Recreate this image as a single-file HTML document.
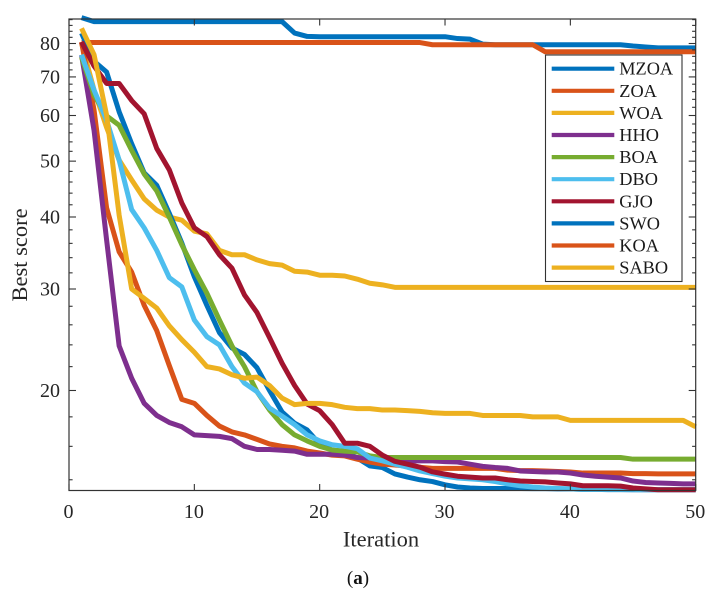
<!DOCTYPE html>
<html>
<head>
<meta charset="utf-8">
<title>Best score vs Iteration</title>
<style>
html,body{margin:0;padding:0;background:#fff;}
svg{display:block;font-family:"Liberation Serif",serif;}
</style>
</head>
<body>
<svg id="chart" width="718" height="602" viewBox="0 0 718 602" xmlns="http://www.w3.org/2000/svg">
<rect x="0" y="0" width="718" height="602" fill="#ffffff"/>
<g id="series"></g>
<g id="axes"></g>
<text transform="translate(27,255) rotate(-90)" text-anchor="middle" font-size="22.5" fill="#262626">Best score</text>
<text x="381" y="546.5" text-anchor="middle" font-size="22.5" fill="#262626">Iteration</text>
<text x="358" y="584" text-anchor="middle" font-size="19" fill="#111">(<tspan font-weight="bold">a</tspan>)</text>
<g id="legend"></g>
</svg>
<script>
const names = ["MZOA","ZOA","WOA","HHO","BOA","DBO","GJO","SWO","KOA","SABO"];
const xTicks = [0,10,20,30,40,50];
const yTicks = [20,30,40,50,60,70,80];
const yMinorTicks = [14,16,18,22,24,26,28,32,34,36,38,42,44,46,48,52,54,56,58,62,64,66,68,72,74,76,78,82,84,86,88];

const MZOA = [88.7,87.3,87.3,87.3,87.3,87.3,87.3,87.3,87.3,87.3,
87.3,87.3,87.3,87.3,87.3,87.3,87.3,83.4,82.3,82.2,
82.2,82.2,82.2,82.2,82.2,82.2,82.2,82.2,82.2,82.2,
81.6,81.4,79.8,79.6,79.6,79.6,79.6,79.6,79.6,79.6,
79.6,79.6,79.6,79.6,79.2,78.9,78.6,78.6,78.6,78.6];
const ZOA = [80.3,80.3,80.3,80.3,80.3,80.3,80.3,80.3,80.3,80.3,
80.3,80.3,80.3,80.3,80.3,80.3,80.3,80.3,80.3,80.3,
80.3,80.3,80.3,80.3,80.3,80.3,80.3,80.3,79.6,79.6,
79.6,79.6,79.6,79.6,79.6,79.6,79.6,77.4,77.4,77.4,
77.4,77.4,77.4,77.4,77.4,77.4,77.4,77.4,77.4,77.4];
const WOA = [80.2,66.4,57.2,50.2,46.4,43,41.1,40,39.5,37.8,
37.4,35,34.4,34.4,33.7,33.2,33,32.2,32.1,31.7,
31.7,31.6,31.2,30.7,30.5,30.2,30.2,30.2,30.2,30.2,
30.2,30.2,30.2,30.2,30.2,30.2,30.2,30.2,30.2,30.2,
30.2,30.2,30.2,30.2,30.2,30.2,30.2,30.2,30.2,30.2];
const HHO = [76.4,56.5,36.5,23.9,21,19,18.1,17.6,17.3,16.75,
16.7,16.65,16.5,16,15.8,15.8,15.75,15.7,15.5,15.5,
15.5,15.45,15.3,15.27,15.15,15.1,15.1,15.1,15.1,15.05,
15.03,14.9,14.77,14.7,14.65,14.5,14.47,14.44,14.44,14.38,
14.27,14.2,14.15,14.1,13.93,13.85,13.82,13.8,13.77,13.77];
const BOA = [75.8,65.1,59.9,57.7,52.2,47.5,44.4,40,35.8,32.4,
29.5,26.5,23.9,22,19.9,18.5,17.45,16.75,16.35,16,
15.77,15.7,15.65,15.4,15.3,15.3,15.3,15.3,15.3,15.3,
15.3,15.3,15.3,15.3,15.3,15.3,15.3,15.3,15.3,15.3,
15.3,15.3,15.3,15.3,15.2,15.2,15.2,15.2,15.2,15.2];
const DBO = [76.5,66.4,58.9,50.2,41.2,38.3,35,31.4,30.25,26.5,
24.8,24,22,20.6,19.9,18.65,18.05,17.45,16.75,16.35,
16.1,16,15.85,15.27,15.1,14.9,14.72,14.5,14.35,14.2,
14.1,14.05,14,13.9,13.77,13.67,13.6,13.55,13.52,13.5,
13.47,13.47,13.47,13.47,13.47,13.46,13.46,13.46,13.46,13.46];
const GJO = [80.5,73.1,68.2,68.2,63.7,60.4,52.6,48.3,42.3,38.3,
37,34.4,32.6,29.3,27.3,24.7,22.3,20.4,18.95,18.45,
17.45,16.2,16.2,16,15.45,15.07,14.9,14.72,14.45,14.32,
14.2,14.15,14.1,14.1,14,13.93,13.9,13.88,13.82,13.77,
13.67,13.67,13.67,13.65,13.55,13.5,13.45,13.45,13.45,13.45];
const SWO = [83.4,74.5,71.4,60.9,53.6,47.7,45.4,40.6,36.05,31.5,
28.1,25.2,23.7,23.1,21.9,20,18.35,17.55,17.08,16.15,
15.75,15.65,15.27,14.8,14.7,14.33,14.15,14,13.9,13.72,
13.6,13.55,13.52,13.52,13.52,13.52,13.51,13.51,13.5,13.5,
13.47,13.47,13.46,13.46,13.45,13.45,13.45,13.45,13.45,13.45];
const KOA = [80.5,61.3,41.5,34.8,32.1,28.1,25.4,22.1,19.3,19,
18.1,17.35,16.95,16.75,16.45,16.15,16,15.9,15.7,15.58,
15.45,15.4,15.2,15.03,14.9,14.85,14.78,14.72,14.65,14.65,
14.65,14.65,14.65,14.65,14.55,14.52,14.52,14.5,14.47,14.44,
14.38,14.38,14.38,14.38,14.35,14.35,14.33,14.33,14.33,14.33];
const SABO = [85,76.5,60.1,40.3,30,28.9,27.8,25.9,24.5,23.3,
22,21.8,21.3,21,21.1,20.4,19.4,18.9,19,19,
18.9,18.7,18.6,18.6,18.5,18.5,18.45,18.4,18.3,18.25,
18.25,18.25,18.1,18.1,18.1,18.1,18,18,18,17.75,
17.75,17.75,17.75,17.75,17.75,17.75,17.75,17.75,17.75,17.3];

const seriesValues = [MZOA,ZOA,WOA,HHO,BOA,DBO,GJO,SWO,KOA,SABO];
const colors = ["#0072BD","#D95319","#EDB120","#7E2F8E","#77AC30","#4DBEEE","#A2142F","#0072BD","#D95319","#EDB120"];
const drawOrder = [0,1,2,7,8,3,4,5,6,9];

const NS = "http://www.w3.org/2000/svg";
const plot = {left:69, right:695.7, top:19, bottom:490.5};
const yRef = {v:80, px:43.5};
const pxPerLn = 250.3;
function xScale(v){ return plot.left + (v/50)*(plot.right-plot.left); }
function yScale(v){ return yRef.px - pxPerLn*Math.log(v/yRef.v); }
function make(tag, attrs, parent){
  const el = document.createElementNS(NS, tag);
  for (const k in attrs) el.setAttribute(k, attrs[k]);
  parent.appendChild(el);
  return el;
}

const seriesGroup = document.getElementById("series");
drawOrder.forEach(function(i){
  const vals = seriesValues[i];
  const pts = vals.map(function(v, j){ return xScale(j+1).toFixed(2)+","+yScale(v).toFixed(2); }).join(" ");
  const line = make("polyline", {points:pts, fill:"none", stroke:colors[i], "stroke-width":"5", "stroke-linejoin":"round", "stroke-linecap":"butt"}, seriesGroup);
  
  
});

const axes = document.getElementById("axes");
const axisColor = "#333333";
const frame = make("rect", {x:plot.left, y:plot.top, width:plot.right-plot.left, height:plot.bottom-plot.top, fill:"none", stroke:axisColor, "stroke-width":"1.2"}, axes);



function tick(x1,y1,x2,y2,name){
  const t = make("line", {x1:x1,y1:y1,x2:x2,y2:y2,stroke:axisColor,"stroke-width":"1.1"}, axes);
  
  
}
xTicks.forEach(function(v){
  const x = xScale(v);
  tick(x,plot.bottom,x,plot.bottom-6.5,'x-tick-bottom');
  tick(x,plot.top,x,plot.top+6.5,'x-tick-top');
  const label = make("text", {x:x-0.5, y:518, "text-anchor":"middle", "font-size":"20", fill:"#262626"}, axes);
  
  
  label.textContent = v;
});
yTicks.forEach(function(v){
  const y = yScale(v);
  tick(plot.left,y,plot.left+7,y,'y-tick-left');
  tick(plot.right,y,plot.right-7,y,'y-tick-right');
  const label = make("text", {x:60, y:y+6.5, "text-anchor":"end", "font-size":"20", fill:"#262626"}, axes);
  
  
  label.textContent = v;
});
yMinorTicks.forEach(function(v){
  const y = yScale(v);
  tick(plot.left,y,plot.left+3.6,y,'y-minor-tick-left');
  tick(plot.right,y,plot.right-3.6,y,'y-minor-tick-right');
});

const legend = document.getElementById("legend");
const legendBox = make("rect", {x:545.5, y:55, width:136.5, height:226.5, fill:"#ffffff", stroke:axisColor, "stroke-width":"1.1"}, legend);


names.forEach(function(n, i){
  const y = 68.7 + i*22.1;
  const swatch = make("line", {x1:551.7, x2:614.3, y1:y, y2:y, stroke:colors[i], "stroke-width":"4.2"}, legend);
  
  
  const label = make("text", {x:619.3, y:y+6, "font-size":"18.3", fill:"#1a1a1a"}, legend);
  
  
  label.textContent = n;
});
</script>
</body>
</html>
